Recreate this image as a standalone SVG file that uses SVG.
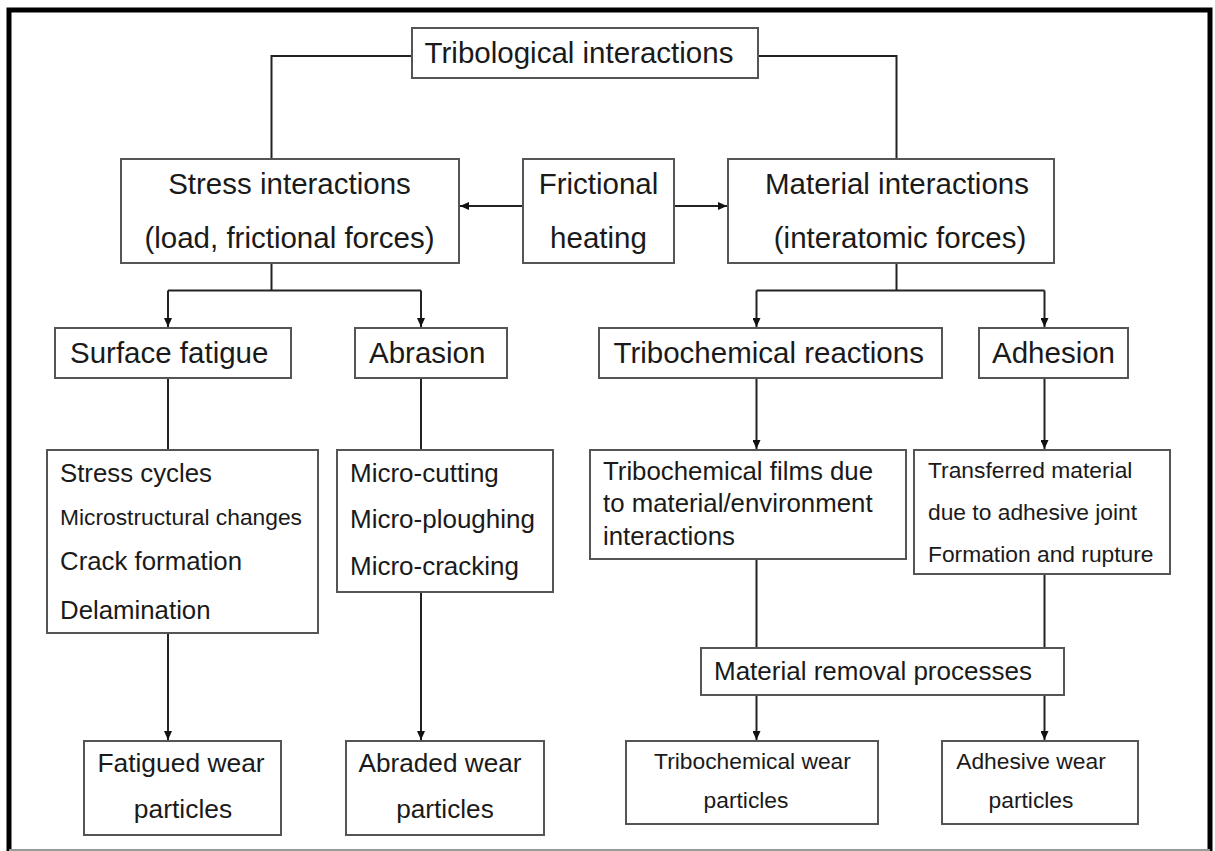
<svg xmlns="http://www.w3.org/2000/svg" width="1215" height="851" viewBox="0 0 1215 851">
<style>
.box{fill:#fff;stroke:#555;stroke-width:2}
.ln{fill:none;stroke:#222;stroke-width:2}
text{font-family:"Liberation Sans",Arial,sans-serif;fill:#1a1a1a}
.m{text-anchor:middle}
.f29{font-size:29.5px}
.f26{font-size:26px}
.f23{font-size:22.8px}
</style>
<defs>
<marker id="ah" markerUnits="userSpaceOnUse" markerWidth="9" markerHeight="8" refX="9" refY="4" orient="auto">
<path d="M0,0 L9,4 L0,8 z" fill="#111"/>
</marker>
</defs>
<rect width="1215" height="851" fill="#fff"/>
<g id="frame">
<path d="M9,851 V10 H1210 V851" fill="none" stroke="#000" stroke-width="5"/>
<line x1="9" y1="850" x2="1210" y2="850" stroke="#999" stroke-width="2"/>
</g>
<g id="connectors">
<path class="ln" d="M412,56 H271.5 V159"/>
<path class="ln" d="M758,56 H896.5 V159"/>
<path class="ln" d="M523,206 H460" marker-end="url(#ah)"/>
<path class="ln" d="M674,206 H727" marker-end="url(#ah)"/>
<path class="ln" d="M271.5,263 V290.5 M168,290.5 H421 M896.5,263 V290.5 M756.5,290.5 H1044.5"/>
<path class="ln" d="M168,290.5 V327" marker-end="url(#ah)"/>
<path class="ln" d="M421,290.5 V327" marker-end="url(#ah)"/>
<path class="ln" d="M756.5,290.5 V327" marker-end="url(#ah)"/>
<path class="ln" d="M1044.5,290.5 V327" marker-end="url(#ah)"/>
<path class="ln" d="M168,378 V450 M421,378 V450"/>
<path class="ln" d="M756.5,378 V449" marker-end="url(#ah)"/>
<path class="ln" d="M1044.5,378 V449" marker-end="url(#ah)"/>
<path class="ln" d="M168,633 V740" marker-end="url(#ah)"/>
<path class="ln" d="M421,592 V740" marker-end="url(#ah)"/>
<path class="ln" d="M756.5,559 V648 M1044.5,574 V648"/>
<path class="ln" d="M756.5,695 V740" marker-end="url(#ah)"/>
<path class="ln" d="M1044.5,695 V740" marker-end="url(#ah)"/>
</g>
<g id="tribological">
<rect class="box" x="412" y="28" width="346" height="50"/>
<text class="m f29" x="579" y="63">Tribological interactions</text>
</g>
<g id="stress">
<rect class="box" x="121" y="159" width="338" height="104"/>
<text class="m f29" x="289.5" y="194">Stress interactions</text>
<text class="m f29" x="289.5" y="248">(load, frictional forces)</text>
</g>
<g id="friction">
<rect class="box" x="523" y="159" width="151" height="104"/>
<text class="m f29" x="598.5" y="194">Frictional</text>
<text class="m f29" x="598.5" y="248">heating</text>
</g>
<g id="material">
<rect class="box" x="728" y="159" width="326" height="104"/>
<text class="m f29" x="897" y="194">Material interactions</text>
<text class="m f29" x="900" y="248">(interatomic forces)</text>
</g>
<g id="surface-fatigue">
<rect class="box" x="55" y="328" width="236" height="50"/>
<text class="f29" x="70" y="363">Surface fatigue</text>
</g>
<g id="abrasion">
<rect class="box" x="355" y="328" width="152" height="50"/>
<text class="f29" x="369" y="363">Abrasion</text>
</g>
<g id="tribochemical-reactions">
<rect class="box" x="599" y="328" width="343" height="50"/>
<text class="f29" x="613.5" y="363">Tribochemical reactions</text>
</g>
<g id="adhesion">
<rect class="box" x="979" y="328" width="149" height="50"/>
<text class="f29" x="992" y="363">Adhesion</text>
</g>
<g id="stress-cycles">
<rect class="box" x="47" y="450" width="271" height="183"/>
<text x="60" y="482" style="font-size:25.8px">Stress cycles</text>
<text class="f23" x="60" y="525">Microstructural changes</text>
<text x="60" y="570" style="font-size:25.8px">Crack formation</text>
<text x="60" y="619" style="font-size:25.8px">Delamination</text>
</g>
<g id="micro">
<rect class="box" x="337" y="450" width="216" height="142"/>
<text class="f26" x="350" y="482">Micro-cutting</text>
<text class="f26" x="350" y="528">Micro-ploughing</text>
<text class="f26" x="350" y="575">Micro-cracking</text>
</g>
<g id="films">
<rect class="box" x="590" y="450" width="316" height="109"/>
<text x="603" y="480" style="font-size:25.8px">Tribochemical films due</text>
<text x="603" y="512" style="font-size:25.8px">to material/environment</text>
<text x="603" y="545" style="font-size:25.8px">interactions</text>
</g>
<g id="transferred">
<rect class="box" x="914" y="450" width="256" height="124"/>
<text class="f23" x="928" y="478">Transferred material</text>
<text class="f23" x="928" y="520">due to adhesive joint</text>
<text class="f23" x="928" y="562">Formation and rupture</text>
</g>
<g id="removal">
<rect class="box" x="701" y="648" width="363" height="47"/>
<text class="f26" x="714" y="680">Material removal processes</text>
</g>
<g id="fatigued-wear">
<rect class="box" x="84" y="741" width="197" height="94"/>
<text class="m" x="181" y="772" style="font-size:26.4px">Fatigued wear</text>
<text class="m" x="183" y="818" style="font-size:26.4px">particles</text>
</g>
<g id="abraded-wear">
<rect class="box" x="346" y="741" width="198" height="94"/>
<text class="m" x="440" y="772" style="font-size:26.2px">Abraded wear</text>
<text class="m" x="445" y="818" style="font-size:26.2px">particles</text>
</g>
<g id="tribochemical-wear">
<rect class="box" x="626" y="741" width="252" height="83"/>
<text class="m f23" x="752.5" y="769">Tribochemical wear</text>
<text class="m f23" x="746" y="808">particles</text>
</g>
<g id="adhesive-wear">
<rect class="box" x="942" y="741" width="196" height="83"/>
<text class="m f23" x="1031" y="769">Adhesive wear</text>
<text class="m f23" x="1031" y="808">particles</text>
</g>
</svg>
